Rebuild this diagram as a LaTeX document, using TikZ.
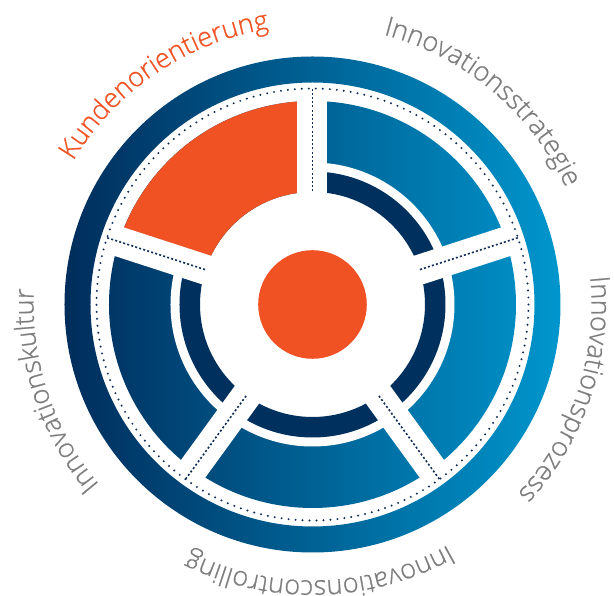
\documentclass[tikz,border=0pt]{standalone}
\usepackage{fontspec}
\IfFontExistsTF{Open Sans Light}
  {\newfontfamily\labelfamily{Open Sans Light}[FakeBold=0.8]}
  {\newfontfamily\labelfamily{Open Sans}}
\usetikzlibrary{decorations.text}

\definecolor{ringdark}{RGB}{0,45,92}
\definecolor{ringlight}{RGB}{0,150,205}
\definecolor{navy}{RGB}{0,48,94}
\definecolor{accent}{RGB}{240,82,35}
\definecolor{labelgray}{RGB}{125,125,125}
\definecolor{dotnavy}{RGB}{15,45,85}
\newcommand\labelfont{\labelfamily\fontsize{27pt}{27pt}\selectfont}

\tikzset{
  gapband/.style={white, line width=30pt},
  gapdots/.style={dotnavy, line width=1.6pt, dash pattern=on 2pt off 2.2pt},
  ringdots/.style={dotnavy, line width=2.2pt, line cap=round, dash pattern=on 0pt off 7pt},
  graylabel/.style={decorate, decoration={text along path, text align=center,
      text color=labelgray, text={|\labelfont|#1}}},
  accentlabel/.style={decorate, decoration={text along path, text align=center,
      text color=accent, text={|\labelfont|#1}}},
}

\begin{document}
\begin{tikzpicture}[x=1pt,y=1pt]
  \useasboundingbox (-312.5,-291.5) rectangle (301.5,304.5);

  % outer ring with horizontal gradient
  \shade[even odd rule, left color=ringdark, right color=ringlight]
    (0,0) circle (248) (0,0) circle (222);

  % segment ring, sharing the gradient of the outer ring
  \begin{scope}
    \clip (0,0) circle (203.5);
    \shade[left color=ringdark, right color=ringlight] (-248,-248) rectangle (248,248);
  \end{scope}
  \fill[white] (0,0) circle (142);

  % inner dark ring
  \fill[navy, even odd rule] (0,0) circle (133) (0,0) circle (112.5);

  % highlighted sector
  \fill[accent] (90:112.5) -- (90:203.5) arc[start angle=90, end angle=162, radius=203.5]
    -- (162:112.5) arc[start angle=162, end angle=90, radius=112.5] -- cycle;

  % white gaps between the sectors
  \foreach \a in {90,18,-54,-126,162}
    \draw[gapband] (0,0) -- (\a:219);

  % dotted guide lines
  \draw[ringdots] (0,0) circle (216);
  \foreach \a in {90,18,-54,-126,162}
    \draw[gapdots] (\a:113) -- (\a:216);

  % centre disc
  \fill[accent] (0,0) circle (54.3);

  % labels along the circle
  \path[accentlabel=Kundenorientierung] (164:279) arc[start angle=164, end angle=84, radius=279];
  \path[graylabel=Innovationsstrategie] (90:279) arc[start angle=90, end angle=10, radius=279];
  \path[graylabel=Innovationsprozess] (21.5:279) arc[start angle=21.5, end angle=-58.5, radius=279];
  \path[graylabel=Innovationscontrolling] (-48.5:276) arc[start angle=-48.5, end angle=-128.5, radius=276];
  \path[graylabel=Innovationskultur] (238.5:279) arc[start angle=238.5, end angle=158.5, radius=279];
\end{tikzpicture}
\end{document}
